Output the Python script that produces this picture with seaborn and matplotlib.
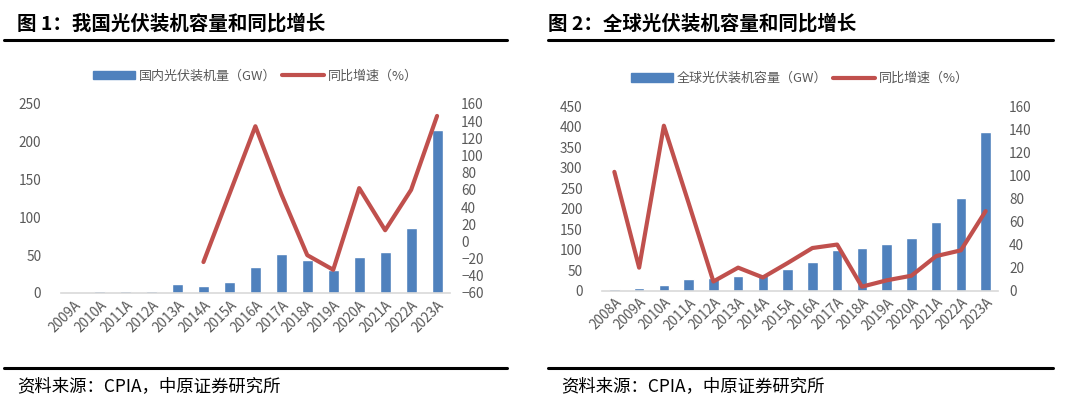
import numpy as np
import pandas as pd
import matplotlib
matplotlib.use('Agg')
import matplotlib.pyplot as plt
from matplotlib.lines import Line2D
from matplotlib.patches import Patch
import seaborn as sns

# 图1 数据
years1 = ['2009A', '2010A', '2011A', '2012A', '2013A', '2014A', '2015A', '2016A',
          '2017A', '2018A', '2019A', '2020A', '2021A', '2022A', '2023A']
cap1 = [0.2, 2.5, 2.5, 2.5, 12, 9.5, 14.5, 34.5, 52, 43, 30, 47, 54, 86, 215]
yoy1_years = ['2014A', '2015A', '2016A', '2017A', '2018A', '2019A', '2020A', '2021A', '2022A', '2023A']
yoy1 = [-24, 55, 134, 55, -16, -33, 62, 13, 60, 146]

# 图2 数据
years2 = ['2008A', '2009A', '2010A', '2011A', '2012A', '2013A', '2014A', '2015A',
          '2016A', '2017A', '2018A', '2019A', '2020A', '2021A', '2022A', '2023A']
cap2 = [3, 6, 15, 28, 32, 36, 40, 52, 71, 99, 105, 115, 128, 167, 227, 388]
yoy2 = [103, 20, 143, 76, 8, 20, 11.5, 24, 37, 40, 3.5, 9, 13, 30, 35, 69]

sns.set_theme(style='white')
plt.rcParams['font.family'] = ['Noto Sans CJK SC', 'DejaVu Sans']

BLUE = '#4F81BD'
RED = '#C0504D'
GREY = '#595959'

fig = plt.figure(figsize=(10.8, 4.04), dpi=100)


def panel(rect, years, cap, yoy_years, yoy, ylim1, step1, ylim2, step2, bar_label):
    ax = fig.add_axes(rect)
    df = pd.DataFrame({'year': years, 'cap': cap})
    sns.barplot(data=df, x='year', y='cap', color=BLUE, width=0.42, saturation=1, ax=ax)
    ax.set_xlim(-0.5, len(years) - 0.5)
    ax.set_ylim(*ylim1)
    ax.set_yticks(np.arange(ylim1[0], ylim1[1] + 1, step1))
    ax.set_xlabel('')
    ax.set_ylabel('')
    for s in ['top', 'right', 'left']:
        ax.spines[s].set_visible(False)
    ax.spines['bottom'].set_color('#D9D9D9')
    ax.spines['bottom'].set_linewidth(1.2)
    ax.tick_params(axis='both', length=0, colors=GREY, labelsize=9.8)
    ax.tick_params(axis='y', pad=14)
    for lab in ax.get_xticklabels():
        lab.set_rotation(45)
        lab.set_ha('right')
        lab.set_rotation_mode('anchor')

    ax2 = ax.twinx()
    pos = [years.index(y) for y in yoy_years]
    dl = pd.DataFrame({'x': pos, 'v': yoy})
    sns.lineplot(data=dl, x='x', y='v', color=RED, linewidth=3, ax=ax2)
    ax2.set_ylim(*ylim2)
    ax2.set_yticks(np.arange(ylim2[0], ylim2[1] + 1, step2))
    ax2.set_xlim(-0.5, len(years) - 0.5)
    ax2.set_ylabel('')
    ax2.set_xlabel('')
    for s in ax2.spines.values():
        s.set_visible(False)
    ax2.tick_params(axis='y', length=0, colors=GREY, labelsize=9.8, pad=8)
    ax2.grid(False)
    ax.grid(False)

    handles = [Patch(color=BLUE), Line2D([], [], color=RED, linewidth=3)]
    ax2.legend(handles, [bar_label, '同比增速（%）'], loc='lower center',
               bbox_to_anchor=(0.5, 1.05), ncol=2, frameon=False, fontsize=9.4,
               labelcolor=GREY, handlelength=3.2, handleheight=0.6,
               columnspacing=0.4, handletextpad=0.3)
    return ax


panel([0.0562, 0.2748, 0.3605, 0.468], years1, cap1, yoy1_years, yoy1,
      (0, 250), 50, (-60, 160), 20, '国内光伏装机量（GW）')
panel([0.5574, 0.2804, 0.3667, 0.457], years2, cap2, years2, yoy2,
      (0, 450), 50, (0, 160), 20, '全球光伏装机容量（GW）')

# 标题、分割线、来源
fig.text(0.016, 1 - 24 / 404, '图 1：我国光伏装机容量和同比增长', fontsize=14,
         fontweight='heavy', va='center', ha='left', color='black')
fig.text(0.507, 1 - 24 / 404, '图 2：全球光伏装机容量和同比增长', fontsize=14,
         fontweight='heavy', va='center', ha='left', color='black')
for x0, x1 in [(0.004, 0.469), (0.507, 0.975)]:
    fig.add_artist(Line2D([x0, x1], [1 - 40 / 404] * 2, color='black', linewidth=2.2))
    fig.add_artist(Line2D([x0, x1], [1 - 368 / 404] * 2, color='black', linewidth=2.2))
fig.text(0.016, 1 - 386 / 404, '资料来源：CPIA，中原证券研究所', fontsize=12.5,
         va='center', ha='left', color='black')
fig.text(0.520, 1 - 386 / 404, '资料来源：CPIA，中原证券研究所', fontsize=12.5,
         va='center', ha='left', color='black')

fig.savefig('out.png', dpi=100)
